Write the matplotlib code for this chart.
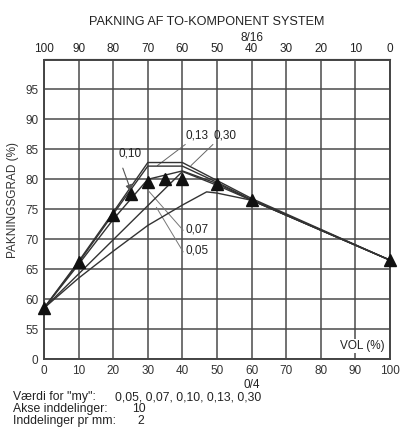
import matplotlib
matplotlib.use("Agg")
import matplotlib.pyplot as plt
from matplotlib.transforms import blended_transform_factory

plt.rcParams['font.family'] = ['Liberation Sans', 'DejaVu Sans']

# measured points (triangles)
meas_x = [0, 10, 20, 25, 30, 35, 40, 50, 60, 100]
meas_y = [58.5, 66.2, 74.0, 77.5, 79.5, 80.0, 80.0, 79.2, 76.5, 66.5]

# model curves for "my" values
x_std = [0, 10, 20, 30, 40, 50, 60, 100]
y_030 = [58.5, 66.3, 74.5, 82.8, 82.8, 79.8, 76.8, 66.5]
y_013 = [58.5, 66.1, 74.2, 82.2, 82.2, 79.5, 76.6, 66.5]
y_010 = [58.5, 65.8, 73.3, 80.0, 81.4, 79.3, 76.5, 66.5]
y_007 = [58.5, 64.2, 69.9, 75.6, 81.3, 79.0, 76.5, 66.5]
x_005 = [0, 10, 20, 30, 40, 47, 50, 60, 100]
y_005 = [58.5, 63.5, 68.0, 72.3, 75.7, 77.9, 77.7, 76.5, 66.5]

x_ticks = [0, 10, 20, 30, 40, 50, 60, 70, 80, 90, 100]
x_top_labels = ['100', '90', '80', '70', '60', '50', '40', '30', '20', '10', '0']
y_ticks = [50, 55, 60, 65, 70, 75, 80, 85, 90, 95]
y_labels = ['0', '55', '60', '65', '70', '75', '80', '85', '90', '95']

W, H = 409, 430
fig = plt.figure(figsize=(W / 100, H / 100), dpi=100)
ax = fig.add_axes([44 / W, (H - 359) / H, (390 - 44) / W, (359 - 59.5) / H])

ax.set_xlim(0, 100)
ax.set_ylim(50, 100)
ax.set_xticks(x_ticks)
ax.set_xticklabels([str(v) for v in x_ticks])
ax.set_yticks(y_ticks)
ax.set_yticklabels(y_labels)
ax.tick_params(length=0, labelsize=8.5, labelcolor='#333333', pad=4)
ax.grid(True, color='#4a4a4a', linewidth=1.1)
for s in ax.spines.values():
    s.set_color('#444444')
    s.set_linewidth(1.4)

top = ax.secondary_xaxis('top')
top.set_xticks(x_ticks)
top.set_xticklabels(x_top_labels)
top.tick_params(length=0, labelsize=8.5, labelcolor='#222222', pad=3)

lc = '#333333'
for xs, ys in [(x_std, y_030), (x_std, y_013), (x_std, y_010), (x_std, y_007), (x_005, y_005)]:
    ax.plot(xs, ys, color=lc, linewidth=1.0, zorder=3)

ax.plot(meas_x, meas_y, linestyle='none', marker='^', markersize=8,
        color='#111111', zorder=4, clip_on=False)

# annotations
tc = '#222222'
ax.text(21.5, 83.8, '0,10', fontsize=8.5, color=tc)
ax.annotate('', xy=(25.5, 77.5), xytext=(22.5, 82.3),
            arrowprops=dict(arrowstyle='-|>', color='#555555', lw=0.8))
ax.text(40.8, 86.8, '0,13', fontsize=8.5, color=tc)
ax.text(49.0, 86.8, '0,30', fontsize=8.5, color=tc)
ax.plot([40.8, 32.8], [85.8, 82.3], color='#666666', lw=0.7)
ax.plot([48.8, 42.5], [85.8, 82.3], color='#666666', lw=0.7)
ax.text(40.8, 71.2, '0,07', fontsize=8.5, color=tc)
ax.text(40.8, 67.6, '0,05', fontsize=8.5, color=tc)
ax.plot([40.2, 30.0], [71.5, 78.2], color='#777777', lw=0.7)
ax.plot([40.2, 32.5], [67.9, 75.3], color='#777777', lw=0.7)

ax.text(98.5, 51.2, 'VOL (%)', fontsize=8.5, color=tc, ha='right', va='bottom',
        bbox=dict(facecolor='white', edgecolor='none', pad=0.5), zorder=5)

trb = blended_transform_factory(ax.transData, fig.transFigure)
ax.text(60, 1 - 385 / H, '0/4', fontsize=8.5, color=tc, ha='center', va='center', transform=trb)
ax.text(60, 1 - 38 / H, '8/16', fontsize=8.5, color=tc, ha='center', va='center', transform=trb)

fig.text(207 / W, 1 - 22 / H, 'PAKNING AF TO-KOMPONENT SYSTEM', fontsize=9.1,
         color=tc, ha='center', va='center')
fig.text(13 / W, 1 - 200 / H, 'PAKNINGSGRAD (%)', fontsize=8.5, color='#333333',
         rotation=90, ha='center', va='center')

fs = 8.8
fig.text(13 / W, 1 - 397 / H, 'Værdi for "my":', fontsize=fs, color=tc, va='center')
fig.text(115 / W, 1 - 397 / H, '0,05, 0,07, 0,10, 0,13, 0,30', fontsize=fs, color=tc, va='center')
fig.text(13 / W, 1 - 409 / H, 'Akse inddelinger:', fontsize=fs, color=tc, va='center')
fig.text(132 / W, 1 - 409 / H, '10', fontsize=fs, color=tc, va='center')
fig.text(13 / W, 1 - 421 / H, 'Inddelinger pr mm:', fontsize=fs, color=tc, va='center')
fig.text(137 / W, 1 - 421 / H, '2', fontsize=fs, color=tc, va='center')

fig.savefig('out.png', dpi=100, facecolor='white')
